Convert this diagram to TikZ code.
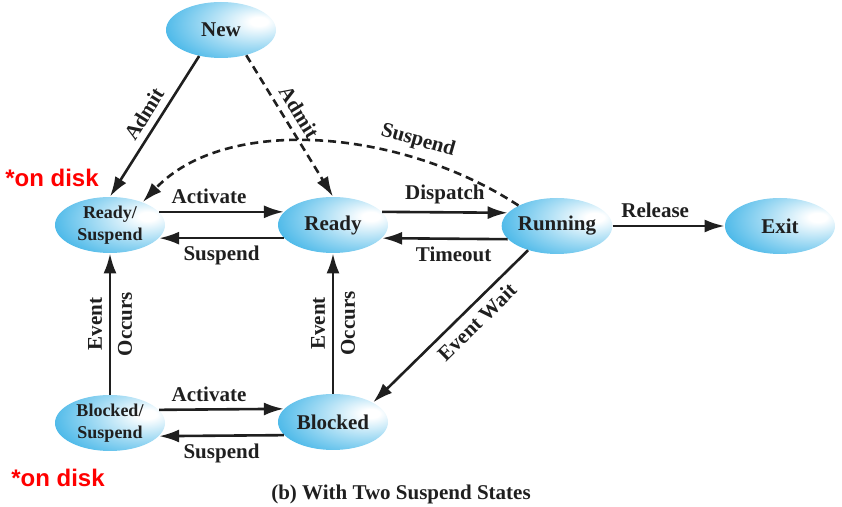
\documentclass[tikz,border=0pt]{standalone}
\usepackage{fontspec}
\setmainfont{Liberation Serif}
\newfontfamily\notefont{Liberation Sans}
\usetikzlibrary{shapes.geometric,arrows.meta}

\definecolor{statecol}{RGB}{38,170,228}
\colorlet{statemid}{statecol!40!white}
\colorlet{inkcol}{black!88}
\pgfdeclareradialshading{stateshade}{\pgfpoint{18bp}{8bp}}{color(0bp)=(white); color(4bp)=(white); color(20bp)=(statemid); color(45bp)=(statecol); color(100bp)=(statecol)}

\begin{document}
\begin{tikzpicture}[x=0.5pt,y=-0.5pt,
	state/.style={ellipse,shading=stateshade,minimum width=55pt,minimum height=28pt,inner sep=0pt,align=center,text=inkcol,font=\fontsize{10.5}{12}\selectfont\bfseries},
	twoline/.style={font=\fontsize{9}{11}\selectfont\bfseries},
	trans/.style={-{Latex[length=10pt,width=6.5pt]},line width=1.3pt,draw=inkcol},
	dashtrans/.style={trans,dash pattern=on 4pt off 2.5pt},
	lbl/.style={text=inkcol,font=\fontsize{10.5}{12}\selectfont\bfseries},
	ondisk/.style={text=red,font=\notefont\fontsize{12}{14}\selectfont\bfseries}]
	\useasboundingbox (0,0) rectangle (842,507);
	% states
	\node[state] (new) at (221,30) {New};
	\node[state,twoline] (rsus) at (110,225) {Ready/\\Suspend};
	\node[state] (ready) at (333,225) {Ready};
	\node[state] (running) at (557,226) {Running};
	\node[state] (exit) at (780,226) {Exit};
	\node[state,twoline] (bsus) at (110,423) {Blocked/\\Suspend};
	\node[state] (blocked) at (333,422) {Blocked};
	% transitions
	\draw[trans] (new.-130) -- (rsus.north) node[lbl,pos=0.47,sloped,above]{Admit};
	\draw[dashtrans] (new.-45) -- (ready.north) node[lbl,pos=0.46,sloped,above]{Admit};
	\draw[dashtrans] (running.152) .. controls (400,128) and (225,115) .. (rsus.35) node[lbl,pos=0.27,sloped,above]{Suspend};
	\draw[trans] (rsus.15) -- (ready.165) node[lbl,pos=0.4,above]{Activate};
	\draw[trans] (ready.-165) -- (rsus.-15) node[lbl,midway,below]{Suspend};
	\draw[trans] (ready.15) -- (running.165) node[lbl,midway,above]{Dispatch};
	\draw[trans] (running.-165) -- (ready.-15) node[lbl,pos=0.43,below]{Timeout};
	\draw[trans] (running) -- (exit) node[lbl,pos=0.38,above]{Release};
	\draw[trans] (running.-140) -- (blocked.26) node[lbl,pos=0.4,sloped,below]{Event Wait};
	\draw[trans] (bsus.north) -- (rsus.south) node[lbl,midway,sloped,above]{Event} node[lbl,midway,sloped,below]{Occurs};
	\draw[trans] (blocked.north) -- (ready.south) node[lbl,midway,sloped,above]{Event} node[lbl,midway,sloped,below]{Occurs};
	\draw[trans] (bsus.15) -- (blocked.165) node[lbl,pos=0.4,above]{Activate};
	\draw[trans] (blocked.-165) -- (bsus.-15) node[lbl,midway,below]{Suspend};
	% notes
	\node[ondisk] (disktop) at (52,178) {*on disk};
	\node[ondisk] (diskbot) at (58,478) {*on disk};
	\node[lbl] (caption) at (401,494) {(b) With Two Suspend States};
\end{tikzpicture}
\end{document}
